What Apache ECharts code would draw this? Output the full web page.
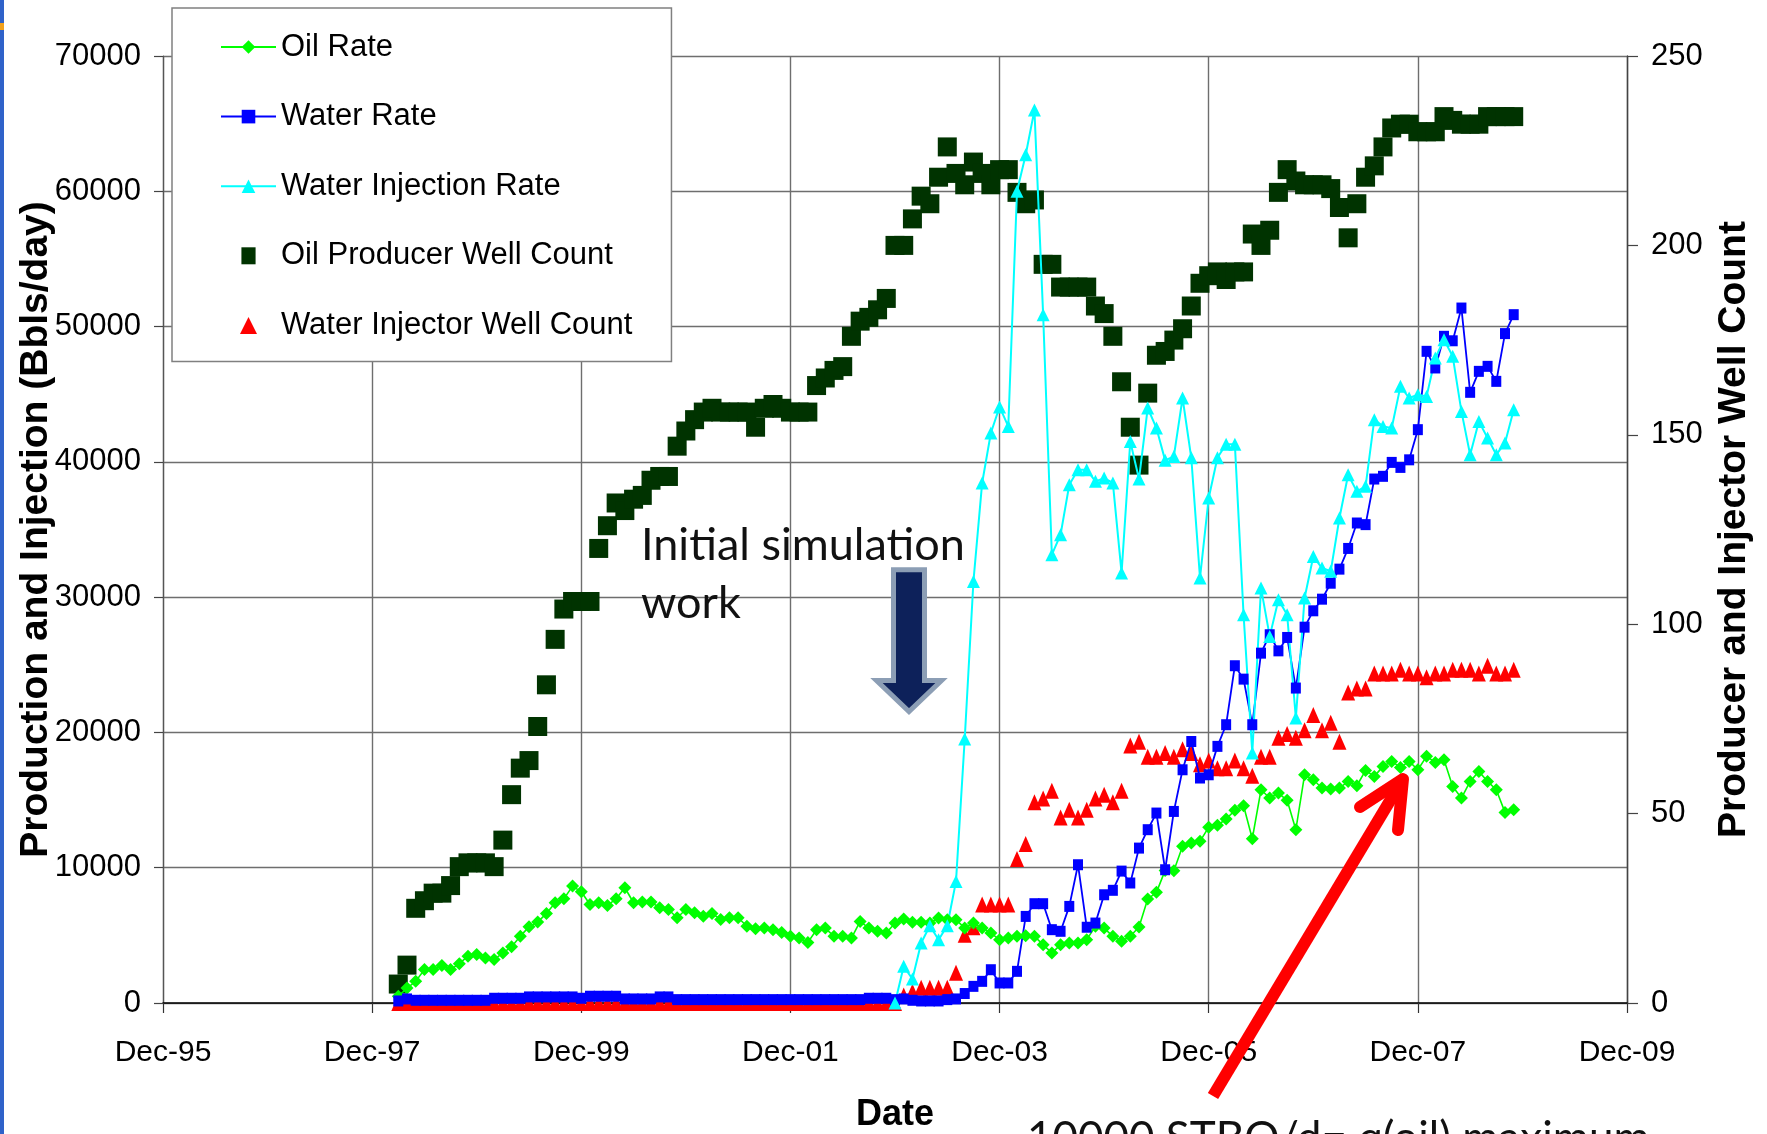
<!DOCTYPE html>
<html><head><meta charset="utf-8">
<script src="https://cdn.jsdelivr.net/npm/echarts@6/dist/echarts.min.js"></script>
<style>html,body{margin:0;padding:0;background:#fff}#c{width:1767px;height:1134px}</style>
</head><body><div id="c"></div>
<script>
// Monthly sample dates (Mar-1998 .. Nov-2008)
const dates = [
'1998-03','1998-04','1998-05','1998-06','1998-07','1998-08','1998-09','1998-10','1998-11','1998-12',
'1999-01','1999-02','1999-03','1999-04','1999-05','1999-06','1999-07','1999-08','1999-09','1999-10','1999-11','1999-12',
'2000-01','2000-02','2000-03','2000-04','2000-05','2000-06','2000-07','2000-08','2000-09','2000-10','2000-11','2000-12',
'2001-01','2001-02','2001-03','2001-04','2001-05','2001-06','2001-07','2001-08','2001-09','2001-10','2001-11','2001-12',
'2002-01','2002-02','2002-03','2002-04','2002-05','2002-06','2002-07','2002-08','2002-09','2002-10','2002-11','2002-12',
'2003-01','2003-02','2003-03','2003-04','2003-05','2003-06','2003-07','2003-08','2003-09','2003-10','2003-11','2003-12',
'2004-01','2004-02','2004-03','2004-04','2004-05','2004-06','2004-07','2004-08','2004-09','2004-10','2004-11','2004-12',
'2005-01','2005-02','2005-03','2005-04','2005-05','2005-06','2005-07','2005-08','2005-09','2005-10','2005-11','2005-12',
'2006-01','2006-02','2006-03','2006-04','2006-05','2006-06','2006-07','2006-08','2006-09','2006-10','2006-11','2006-12',
'2007-01','2007-02','2007-03','2007-04','2007-05','2007-06','2007-07','2007-08','2007-09','2007-10','2007-11','2007-12',
'2008-01','2008-02','2008-03','2008-04','2008-05','2008-06','2008-07','2008-08','2008-09','2008-10','2008-11'
];

const xTickLabels = ['Dec-95','Dec-97','Dec-99','Dec-01','Dec-03','Dec-05','Dec-07','Dec-09'];

const oilRate = [
500,1100,1600,2470,2470,2770,2470,2910,3460,3580,
3330,3210,3700,4150,4940,5630,5980,6620,7410,7700,8640,8220,
7280,7410,7210,7700,8520,7410,7460,7460,7040,6910,6300,6910,
6670,6420,6620,6170,6300,6300,5680,5480,5540,5420,5220,4930,
4800,4480,5420,5540,4930,4930,4800,6030,5540,5300,5170,5910,
6210,5960,5960,5910,6280,6160,6160,5540,5910,5540,5170,4680,
4800,4930,4980,4930,4310,3690,4310,4430,4430,4680,5670,5540,
4930,4560,4930,5620,7680,8180,9800,9780,11580,11820,11950,13000,
13130,13600,14240,14580,12140,15760,15150,15520,14980,12810,16870,16500,
15890,15810,15890,16380,16060,17190,16750,17490,17860,17410,17860,17240,
18230,17780,17980,16010,15150,16380,17120,16380,15760,14090,14290
];

const waterRate = [
150,300,200,200,200,200,200,200,200,200,
200,350,350,350,350,450,450,450,450,450,450,350,
500,500,500,500,300,300,300,300,450,450,250,250,
250,250,250,250,250,250,250,250,250,250,250,250,
250,250,250,250,250,250,250,250,350,350,350,250,
300,200,150,150,150,250,300,700,1230,1600,2460,1480,
1480,2340,6400,7340,7340,5420,5300,7140,10220,5600,5910,8000,
8330,9750,8870,11450,12810,14040,9850,14160,17240,19330,16630,16870,
18970,20570,24930,23940,20570,25860,27220,26030,27020,23280,27780,28990,
29850,31030,32070,33600,35480,35360,38730,38930,39960,39590,40150,42380,
48170,46940,49280,48950,51370,45140,46690,47060,45950,49480,50880
];

const waterInjRate = [
null,null,null,null,null,null,null,null,null,null,
null,null,null,null,null,null,null,null,null,null,null,null,
null,null,null,null,null,null,null,null,null,null,null,null,
null,null,null,null,null,null,null,null,null,null,null,null,
null,null,null,null,null,null,null,null,null,null,null,0,
2710,1770,4430,5710,4680,5710,8990,19510,31160,38440,42130,44060,
42620,60000,62700,66000,50880,33140,34620,38310,39420,39420,38560,38800,
38440,31790,41510,38730,43980,42500,40110,40400,44720,40300,31420,37330,
40300,41310,41310,28700,18480,30680,27100,29810,28700,21070,29940,33010,
32150,31910,35850,39050,37820,38190,43120,42620,42500,45580,44720,44960,
44840,47680,49030,47800,43730,40530,42990,41770,40530,41400,43860
];

const producerWells = [
5,10,25,27,29,29,31,36,37,37,
37,36,43,55,62,64,73,84,96,104,106,106,
106,120,126,132,130,133,134,138,139,139,147,151,
154,156,157,156,156,156,156,152,157,158,157,156,
156,156,163,165,167,168,176,180,181,183,186,200,
200,207,213,211,218,226,219,216,222,219,216,220,
220,214,211,212,195,195,189,189,189,189,184,182,
176,164,152,142,161,171,172,175,178,184,190,192,
193,191,193,193,203,200,204,214,220,217,216,216,
216,215,210,202,211,218,221,226,231,232,232,230,
230,230,234,233,232,232,232,234,234,234,234
];

const injectorWells = [
0,0,0,0,0,0,0,0,0,0,
0,0,0,0,0,0,0,0,0,0,0,0,
0,0,0,0,0,0,0,0,0,0,0,0,
0,0,0,0,0,0,0,0,0,0,0,0,
0,0,0,0,0,0,0,0,0,0,0,0,
2,3,4,4,4,4,8,18,20,26,26,26,
26,38,42,53,54,56,49,51,49,51,54,55,
53,56,68,69,65,65,66,65,67,66,63,64,
62,62,64,62,60,65,65,70,71,70,72,76,
72,74,69,82,83,83,87,87,87,88,87,87,
86,87,87,88,88,88,87,89,87,87,88
];

// months since Dec-1995
function mx(d){ const p = d.split('-').map(Number); return (p[0]-1995)*12 + (p[1]-12); }
function pts(vals){ return dates.map((d,i)=>[mx(d), vals[i]]); }

const FONT = 'Liberation Sans';
const chart = echarts.init(document.getElementById('c'), null, {renderer:'canvas'});
chart.setOption({
  animation:false,
  backgroundColor:'#ffffff',
  grid:{left:163, right:140, top:56, bottom:131, containLabel:false, outerBoundsMode:'none'},
  legend:{
    orient:'vertical', left:172, top:8,
    padding:[22,39,19,48],
    backgroundColor:'#ffffff', borderColor:'#808080', borderWidth:1.5,
    itemWidth:55, itemHeight:17, itemGap:35.6, symbolKeepAspect:true,
    textStyle:{fontFamily:FONT, fontSize:31, color:'#000', lineHeight:34},
    data:[
      {name:'Oil Rate'},
      {name:'Water Rate'},
      {name:'Water Injection Rate'},
      {name:'Oil Producer Well Count', icon:'path://M0,0L10,0L10,12L0,12Z'},
      {name:'Water Injector Well Count', icon:'path://M5,0L10,10L0,10Z'}
    ]
  },
  xAxis:{
    type:'value', min:0, max:168, interval:24,
    name:'Date', nameLocation:'middle', nameGap:94, nameMoveOverlap:false,
    nameTextStyle:{fontFamily:FONT, fontSize:36, fontWeight:'bold', color:'#000'},
    axisLine:{show:true, lineStyle:{color:'#000', width:1.5}},
    axisTick:{show:true, length:10, lineStyle:{color:'#333', width:1.2}},
    axisLabel:{margin:35, fontFamily:FONT, fontSize:30, color:'#000',
      formatter:function(v){ return xTickLabels[Math.round(v/24)] || ''; }},
    splitLine:{show:true, lineStyle:{color:'#6e6e6e', width:1.4}}
  },
  yAxis:[{
    type:'value', min:0, max:70000, interval:10000, position:'left',
    name:'Production and Injection (Bbls/day)', nameLocation:'middle', nameRotate:90, nameGap:107, nameMoveOverlap:false,
    nameTextStyle:{fontFamily:FONT, fontSize:39, fontWeight:'bold', color:'#000'},
    axisLine:{show:true, lineStyle:{color:'#555', width:1.2}},
    axisTick:{show:true, length:9, lineStyle:{color:'#444', width:1.2}},
    axisLabel:{margin:22, fontFamily:FONT, fontSize:31, color:'#000',
      formatter:function(v){ return String(v); }},
    splitLine:{show:true, lineStyle:{color:'#6e6e6e', width:1.4}}
  },{
    type:'value', min:0, max:250, interval:50, position:'right',
    name:'Producer and Injector Well Count', nameLocation:'middle', nameRotate:90, nameGap:88, nameMoveOverlap:false,
    nameTextStyle:{fontFamily:FONT, fontSize:39, fontWeight:'bold', color:'#000'},
    axisLine:{show:true, lineStyle:{color:'#444', width:1.4}},
    axisTick:{show:true, length:11, lineStyle:{color:'#444', width:1.2}},
    axisLabel:{margin:24, fontFamily:FONT, fontSize:31, color:'#000',
      formatter:function(v){ return String(v); }},
    splitLine:{show:false}
  }],
  series:[{
    name:'Oil Rate', type:'line', yAxisIndex:0, data:pts(oilRate),
    symbol:'diamond', symbolSize:13, showAllSymbol:true,
    itemStyle:{color:'#00ff00'}, lineStyle:{color:'#00ff00', width:1.6}
  },{
    name:'Water Rate', type:'line', yAxisIndex:0, data:pts(waterRate),
    symbol:'rect', symbolSize:[10,11], showAllSymbol:true,
    itemStyle:{color:'#0000ff'}, lineStyle:{color:'#0000ff', width:1.8}
  },{
    name:'Water Injection Rate', type:'line', yAxisIndex:0, data:pts(waterInjRate),
    symbol:'triangle', symbolSize:13, showAllSymbol:true, connectNulls:false,
    itemStyle:{color:'#00ffff'}, lineStyle:{color:'#00ffff', width:2}
  },{
    name:'Oil Producer Well Count', type:'scatter', yAxisIndex:1, data:pts(producerWells),
    symbol:'rect', symbolSize:19, itemStyle:{color:'#003300', opacity:1}
  },{
    name:'Water Injector Well Count', type:'scatter', yAxisIndex:1, data:pts(injectorWells),
    symbol:'triangle', symbolSize:[14,16], itemStyle:{color:'#ff0000', opacity:1}
  }],
  graphic:[
    {type:'rect', left:0, top:0, shape:{width:4, height:1134}, style:{fill:'#2f62c9'}, z:100},
    {type:'rect', left:0, top:23, shape:{width:4, height:7}, style:{fill:'#f2a21d'}, z:101},
    {type:'text', x:641, y:568, z:100, style:{text:'Initial simulation', fontFamily:'Lato', fontSize:45, fill:'#111', verticalAlign:'bottom'}},
    {type:'text', x:641, y:626, z:100, style:{text:'work', fontFamily:'Lato', fontSize:45, fill:'#111', verticalAlign:'bottom'}},
    {type:'polygon', z:100, shape:{points:[[893.5,569.8],[924.5,569.8],[924.5,680.5],[941.5,680.5],[909,711.5],[876.5,680.5],[893.5,680.5]]},
      style:{fill:'#0d215a', stroke:'#8c9eb5', lineWidth:5, lineJoin:'miter'}},
    {type:'polyline', z:100, shape:{points:[[1213,1096],[1403,779]]}, style:{stroke:'#ff0000', lineWidth:12, fill:null, lineCap:'butt'}},
    {type:'polyline', z:100, shape:{points:[[1360,807],[1403,779],[1398,830]]}, style:{stroke:'#ff0000', lineWidth:12, fill:null, lineCap:'round', lineJoin:'round'}},
    {type:'text', x:1027, y:1117, z:100, style:{text:'10000 STBO/d= q(oil) maximum', fontFamily:'Lato', fontSize:44, fill:'#111', verticalAlign:'top'}}
  ]
});
</script>
</body></html>
